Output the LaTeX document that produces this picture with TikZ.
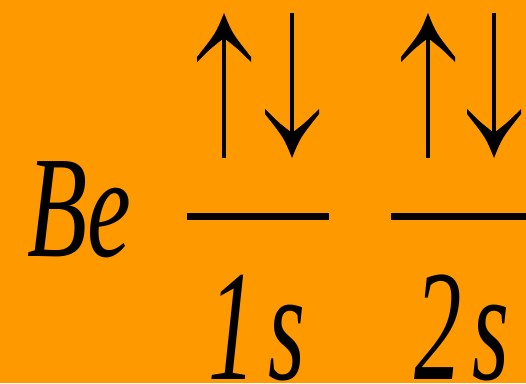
\documentclass[tikz,border=0pt]{standalone}
\usepackage{fontspec}
\setmainfont{Liberation Serif}
\definecolor{bgorange}{RGB}{255,153,0}
\tikzset{
  spin/.style={line width=4pt},
  level/.style={line width=7pt},
  label/.style={anchor=base west, inner sep=0pt},
  pics/headup/.style={code={
    \fill (0,0) .. controls (-8,20) .. (-27,44) -- (-27,49)
      .. controls (-14,36) .. (0,25) .. controls (14,36) .. (27,49)
      -- (27,44) .. controls (8,20) .. cycle;}},
}
\begin{document}
\begin{tikzpicture}[x=1pt,y=-1pt]
  % background
  \fill[bgorange] (0,0) rectangle (526,383);
  \useasboundingbox (0,0) rectangle (526,383);
  \clip (0,0) rectangle (526,383);

  % element symbol
  \node[label] (be) at (27,256)
    {\scalebox{0.68}[1]{\fontsize{145}{145}\selectfont\itshape Be}};

  % 1s orbital
  \draw[level] (187,216.5) -- (329,216.5);
  \draw[spin] (224,158) -- (224,25);
  \pic at (224,13) {headup};
  \draw[spin] (292,13) -- (292,133);
  \pic[yscale=-1] at (292,158) {headup};
  \node[label] (ones) at (208,379)
    {\scalebox{0.6}[1]{\fontsize{158}{158}\selectfont\itshape 1\kern0.14em s}};

  % 2s orbital
  \draw[level] (391,216.5) -- (526,216.5);
  \draw[spin] (428,158) -- (428,25);
  \pic at (428,13) {headup};
  \draw[spin] (494,13) -- (494,133);
  \pic[yscale=-1] at (494,158) {headup};
  \node[label] (twos) at (414,379)
    {\scalebox{0.6}[1]{\fontsize{158}{158}\selectfont\itshape 2\kern0.11em s}};
\end{tikzpicture}
\end{document}
